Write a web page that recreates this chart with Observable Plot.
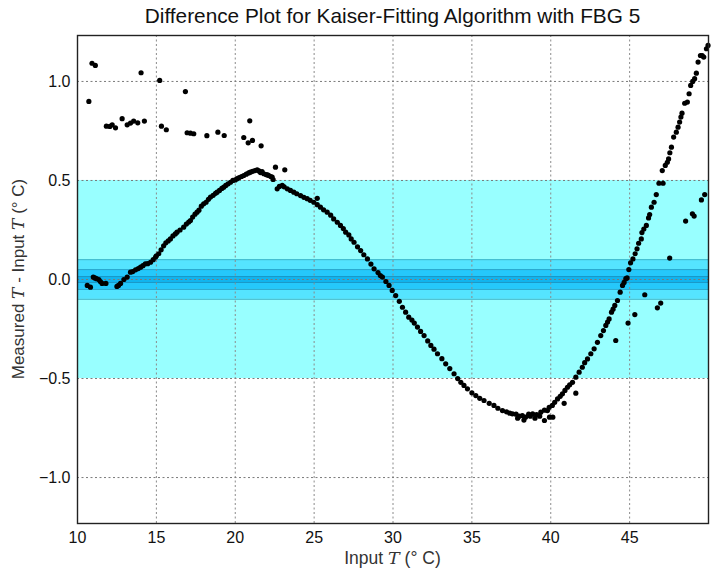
<!DOCTYPE html>
<html>
<head>
<meta charset="utf-8">
<script src="https://cdn.jsdelivr.net/npm/d3@7"></script>
<script src="https://cdn.jsdelivr.net/npm/@observablehq/plot@0.6"></script>
<style>
  html, body { margin: 0; padding: 0; background: #fff; }
  #title { width: 721px; box-sizing: border-box; padding-left: 77px; padding-right: 13px; height: 30px; line-height: 31px;
    text-align: center; font-family: "Liberation Sans", sans-serif; font-size: 20.8px; color: #111; }
  #chart svg { display: block; }
</style>
</head>
<body>
<div id="title">Difference Plot for Kaiser-Fitting Algorithm with FBG 5</div>
<div id="chart"></div>
<script>
const titleText = "Difference Plot for Kaiser-Fitting Algorithm with FBG 5";
const xTicks = [10, 15, 20, 25, 30, 35, 40, 45];
const yTicks = [-1.0, -0.5, 0.0, 0.5, 1.0];
const xDomain = [10, 50];
const yDomain = [-1.232, 1.232];

// tolerance bands (half widths, °C)
const bandHalfWidths = [0.5, 0.1, 0.05, 0.015];

// main difference curve [input T, measured - input]
const mainCurve = [
  [10.62,-0.03],[10.82,-0.039],[11.0,0.012],[11.1,0.008],[11.2,0.004],[11.35,0.0],[11.45,-0.01],[11.56,-0.02],
  [11.8,-0.02],[12.5,-0.035],[12.6,-0.03],[12.73,-0.02],[12.94,0.0],[13.15,0.012],[13.36,0.037],[13.5,0.04],
  [13.68,0.049],[13.85,0.055],[14.0,0.062],[14.15,0.07],[14.3,0.079],[14.45,0.08],[14.63,0.087],[14.8,0.1],
  [14.95,0.113],[15.0,0.12],[15.15,0.13],[15.3,0.15],[15.46,0.17],[15.6,0.185],[15.75,0.195],[15.89,0.205],
  [16.05,0.22],[16.2,0.23],[16.31,0.239],[16.5,0.25],[16.73,0.264],[16.9,0.28],[17.05,0.29],[17.16,0.298],
  [17.3,0.315],[17.45,0.33],[17.58,0.34],[17.7,0.35],[17.85,0.37],[18.0,0.382],[18.15,0.39],[18.3,0.405],
  [18.43,0.416],[18.6,0.425],[18.75,0.435],[18.85,0.441],[19.0,0.45],[19.15,0.46],[19.27,0.466],[19.4,0.475],
  [19.55,0.483],[19.7,0.491],[19.85,0.5],[20.0,0.503],[20.12,0.509],[20.25,0.515],[20.4,0.52],[20.54,0.525],
  [20.7,0.532],[20.85,0.538],[20.96,0.542],[21.1,0.546],[21.25,0.55],[21.39,0.554],[21.5,0.548],[21.6,0.54],
  [21.7,0.545],[21.81,0.534],[21.95,0.53],[22.05,0.528],[22.13,0.525],[22.25,0.52],[22.34,0.517],[22.4,0.505],
  [22.66,0.458],[22.8,0.47],[22.98,0.475],[23.1,0.468],[23.3,0.458],[23.5,0.45],[23.71,0.441],[23.9,0.433],
  [24.14,0.424],[24.35,0.415],[24.56,0.408],[24.75,0.4],[24.98,0.39],[25.2,0.378],[25.4,0.365],[25.6,0.352],
  [25.83,0.34],[26.05,0.325],[26.24,0.306],[26.47,0.289],[26.67,0.273],[26.85,0.257],[27.0,0.239],[27.2,0.225],
  [27.35,0.205],[27.53,0.188],[27.75,0.165],[27.95,0.146],[28.15,0.125],[28.38,0.104],[28.6,0.078],[28.8,0.054],
  [29.05,0.035],[29.2,0.02],[29.33,0.012],[29.55,-0.01],[29.75,-0.03],[29.95,-0.055],[30.17,-0.081],[30.4,-0.11],
  [30.6,-0.14],[30.8,-0.165],[31.0,-0.19],[31.2,-0.205],[31.35,-0.22],[31.55,-0.24],[31.75,-0.262],[31.97,-0.283],
  [32.2,-0.31],[32.4,-0.333],[32.6,-0.352],[32.82,-0.375],[33.1,-0.4],[33.34,-0.426],[33.6,-0.45],[33.87,-0.476],
  [34.1,-0.5],[34.3,-0.519],[34.5,-0.535],[34.72,-0.552],[35.0,-0.572],[35.25,-0.586],[35.5,-0.6],[35.77,-0.611],
  [36.1,-0.625],[36.4,-0.636],[36.65,-0.65],[36.94,-0.662],[37.2,-0.668],[37.4,-0.675],[37.57,-0.678],[37.8,-0.68],
  [37.9,-0.7],[38.0,-0.69],[38.2,-0.687],[38.3,-0.71],[38.4,-0.695],[38.6,-0.68],[38.7,-0.69],[38.85,-0.678],
  [39.0,-0.7],[39.1,-0.682],[39.3,-0.69],[39.37,-0.67],[39.6,-0.712],[39.6,-0.66],[39.79,-0.662],[39.92,-0.695],
  [39.9,-0.645],[40.13,-0.695],[40.1,-0.636],[40.25,-0.62],[40.43,-0.603],[40.6,-0.59],[40.74,-0.577],[40.9,-0.56],
  [41.06,-0.544],[41.2,-0.532],[41.38,-0.519],[41.59,-0.493],[41.8,-0.468],[42.0,-0.443],[42.15,-0.42],[42.33,-0.401],
  [42.54,-0.375],[42.75,-0.35],[42.96,-0.317],[43.17,-0.283],[43.34,-0.258],[43.49,-0.232],[43.6,-0.215],[43.7,-0.199],
  [43.85,-0.165],[43.95,-0.15],[44.06,-0.131],[44.23,-0.106],[44.4,-0.064],[44.55,-0.03],[44.65,-0.015],[44.76,0.004],
  [44.84,0.008],[44.95,0.05],[45.06,0.084],[45.21,0.104],[45.35,0.13],[45.47,0.155],[45.57,0.183],[45.74,0.205],
  [45.78,0.237],[45.9,0.255],[46.06,0.273],[46.2,0.311],[46.27,0.328],[46.38,0.365],[46.55,0.39],[46.69,0.429],
  [46.86,0.486],[47.12,0.486],[47.07,0.55],[47.26,0.576],[47.39,0.592],[47.47,0.609],[47.55,0.64],[47.65,0.668],
  [47.79,0.719],[47.96,0.744],[48.07,0.769],[48.17,0.795],[48.25,0.82],[48.32,0.84],[48.49,0.89],[48.66,0.896],
  [48.77,0.938],[48.87,0.98],[49.0,1.0],[49.12,1.014],[49.23,1.042],[49.34,1.098],[49.49,1.131],[49.6,1.13],
  [49.7,1.123],[49.87,1.165],[49.97,1.182]
];

// scattered outlier readings [input T, measured - input]
const outliers = [
  [10.72,0.899],[10.92,1.092],[11.13,1.081],[11.83,0.774],[12.05,0.773],[12.2,0.781],[12.41,0.766],[12.83,0.812],
  [13.15,0.781],[13.36,0.79],[13.56,0.8],[13.82,0.791],[14.03,1.044],[14.24,0.8],[15.21,1.005],[15.32,0.774],
  [15.63,0.756],[16.84,0.949],[16.95,0.741],[17.16,0.739],[17.37,0.736],[18.2,0.726],[18.9,0.744],[19.3,0.727],
  [20.54,0.717],[20.92,0.801],[20.82,0.69],[21.09,0.702],[21.64,0.675],[22.55,0.567],[23.14,0.554],[25.2,0.41],
  [40.85,-0.625],[41.59,-0.574],[44.12,-0.308],[44.9,-0.22],[45.33,-0.177],[45.96,-0.077],[46.76,-0.143],
  [46.97,-0.119],[47.54,0.108],[48.55,0.295],[48.98,0.332],[49.09,0.32],[49.55,0.402],[49.76,0.429]
];

const bandFills = ["#98ffff", "#55e4ff", "#25c8fb", "#12b4ee"];
const bandEdges = ["none", "#3fb6c8", "#2aa6cc", "#1a98c8"];
const bands = bandHalfWidths.map((h, i) => ({lo: -h, hi: h, fill: bandFills[i], edge: bandEdges[i]}));
const points = mainCurve.concat(outliers).map(([x, y]) => ({x, y}));

const W = 721, H = 539;
const chart = Plot.plot({
  width: W, height: H,
  marginTop: 5, marginBottom: 46, marginLeft: 77, marginRight: 13,
  x: {domain: xDomain},
  y: {domain: yDomain},
  style: {fontFamily: "'Liberation Sans', Arial, sans-serif", fontSize: "16px", color: "#111", background: "#fff"},
  marks: [
    Plot.rect(bands, {y1: "lo", y2: "hi", fill: "fill"}),
    Plot.ruleY(bands, {y: "lo", stroke: "edge", strokeWidth: 1}),
    Plot.ruleY(bands, {y: "hi", stroke: "edge", strokeWidth: 1}),
    Plot.gridX(xTicks.slice(1), {stroke: "#8a8a8a", strokeOpacity: 1, strokeDasharray: "2,2.5"}),
    Plot.gridY(yTicks, {stroke: "#7a7a7a", strokeOpacity: 1, strokeDasharray: "2,2.5"}),
    Plot.axisX(xTicks, {anchor: "bottom", tickSize: 0, tickPadding: 8, label: null, fontSize: 16}),
    Plot.axisY(yTicks, {anchor: "left", tickSize: 0, tickPadding: 7, label: null, tickFormat: d3.format(".1f"), fontSize: 16}),
    Plot.dot(points, {x: "x", y: "y", r: 2.6, fill: "#000", stroke: null}),
    Plot.frame({stroke: "#222", strokeWidth: 1.4})
  ]
});
document.getElementById("chart").appendChild(chart);

// axis titles with italic T
const svg = d3.select(chart);
const cx = 77 + (W - 77 - 13) / 2;
const xl = svg.append("text").attr("x", cx).attr("y", H - 5)
  .attr("text-anchor", "middle").attr("font-size", 17.5).attr("fill", "#333")
  .attr("font-family", "'Liberation Sans', Arial, sans-serif");
xl.append("tspan").text("Input ");
xl.append("tspan").attr("font-style", "italic").attr("font-family", "'DejaVu Serif', serif").text("T");
xl.append("tspan").text(" (° C)");

const cy = 5 + (H - 5 - 46) / 2;
const yl = svg.append("text").attr("transform", `translate(24,${cy}) rotate(-90)`)
  .attr("text-anchor", "middle").attr("font-size", 17).attr("fill", "#333")
  .attr("font-family", "'Liberation Sans', Arial, sans-serif");
yl.append("tspan").text("Measured ");
yl.append("tspan").attr("font-style", "italic").attr("font-family", "'DejaVu Serif', serif").text("T");
yl.append("tspan").text(" - Input ");
yl.append("tspan").attr("font-style", "italic").attr("font-family", "'DejaVu Serif', serif").text("T");
yl.append("tspan").text(" (° C)");
</script>
</body>
</html>
